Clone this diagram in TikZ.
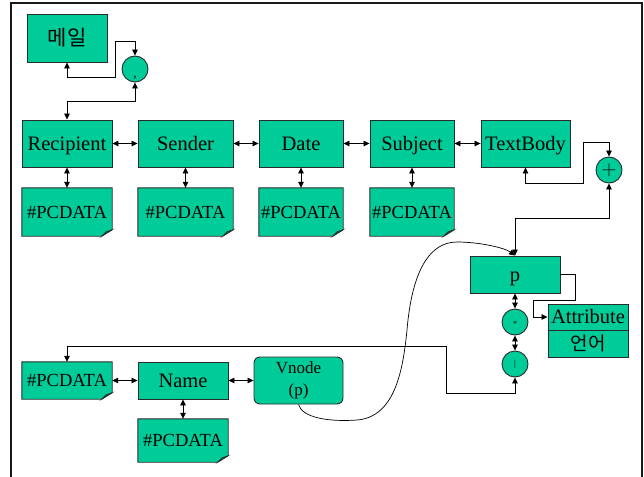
\documentclass[tikz,border=0pt]{standalone}
\usepackage{fontspec}
\setmainfont{Liberation Serif}
\newfontfamily\kofont{Noto Sans CJK KR}
\usepackage{tikz}
\usetikzlibrary{calc,arrows.meta,backgrounds}
\definecolor{boxc}{HTML}{00CC99}
\definecolor{linec}{HTML}{2B2B2B}
\tikzset{
  ar/.style={-{Triangle[length=6pt,width=5.5pt]},line width=0.8pt,black},
  dar/.style={{Triangle[length=6pt,width=5.5pt]}-{Triangle[length=6pt,width=5.5pt]},line width=0.8pt,black},
  box/.style={draw=linec,line width=0.9pt,fill=boxc,inner sep=0pt,text height=13.5pt,text depth=0pt,font=\fontsize{20.5}{22}\selectfont},
  doc/.style={inner sep=0pt,minimum width=90pt,text height=12.2pt,text depth=0pt,font=\fontsize{18.5}{20}\selectfont},
  nd/.style={circle,draw=linec,line width=0.9pt,fill=boxc,minimum size=26pt,inner sep=0pt}
}

\begin{document}
\begin{tikzpicture}[x=1pt,y=-1pt]
\useasboundingbox (0,0) rectangle (644,476);
\draw[line width=1.8pt,black!90] (11,480) -- (11,3) -- (642,3) -- (642,480);
% top part
\node[box,font=\kofont\fontsize{21}{22}\selectfont,text height={},text depth={},minimum width=80pt,minimum height=48pt] (mail) at (67,38) {메일};
\node[nd,label={[font=\fontsize{13}{13}\selectfont,yshift=-9pt]center:{,}}] (seq) at (135,69) {};
\node[box,minimum width=90pt,minimum height=47pt] (rec) at (67,143.5) {Recipient};
\node[box,minimum width=95pt,minimum height=47pt] (snd) at (185.5,143.5) {Sender};
\node[box,minimum width=84pt,minimum height=47pt] (dat) at (301,143.5) {Date};
\node[box,minimum width=84pt,minimum height=47pt] (sub) at (412,143.5) {Subject};
\node[box,minimum width=89pt,minimum height=47pt] (tb) at (525.5,143.5) {TextBody};
\node[doc,minimum height=48pt] (d1) at (67,212) {\#PCDATA};
\node[doc,minimum width=95pt,minimum height=48pt] (d2) at (185.5,212) {\#PCDATA};
\node[doc,minimum width=84pt,minimum height=48pt] (d3) at (301,212) {\#PCDATA};
\node[doc,minimum width=84pt,minimum height=48pt] (d4) at (412,212) {\#PCDATA};
\node[nd,font=\fontsize{20}{20}\selectfont] (plus) at (609,170) {$+$};
% p part
\node[box,minimum width=90pt,minimum height=37pt] (p) at (515,274.5) {p};
\node[nd,label={[font=\fontsize{8}{8}\selectfont,yshift=-1.5pt]center:{*}}] (star) at (515,322) {};
\node[nd,label={[font=\fontsize{9}{9}\selectfont]center:{|}}] (bar) at (515,364) {};
\node[box,minimum width=80pt,minimum height=26pt] (attr) at (588,317) {Attribute};
\node[box,font=\kofont\fontsize{19}{20}\selectfont,text height={},text depth={},minimum width=80pt,minimum height=27pt] (lang) at (588,343.5) {언어};
% bottom row
\node[doc,minimum height=37pt] (dl) at (67,380.5) {\#PCDATA};
\node[box,minimum width=90pt,minimum height=37pt] (name) at (183,380.5) {Name};
\node[box,rounded corners=6pt,align=center,text height={},text depth={},font=\fontsize{17}{22}\selectfont,minimum width=89pt,minimum height=47pt] (vn) at (298.5,380.5) {Vnode\\(p)};
\node[doc,minimum height=43pt] (dn) at (183,440.5) {\#PCDATA};
\begin{scope}[on background layer]
\foreach \n in {d1,d2,d3,d4,dl,dn}{
  \filldraw[draw=linec,line width=0.9pt,fill=boxc] (\n.north west) -- (\n.north east) -- ([yshift=6.5pt]\n.south east) -- ([xshift=-10.5pt]\n.south east) -- (\n.south west) -- cycle;
  \filldraw[draw=linec,line width=0.6pt,fill=boxc!65!black] ([xshift=-10.5pt]\n.south east) -- ([xshift=-6pt,yshift=4.5pt]\n.south east) -- ([yshift=6.5pt]\n.south east) -- cycle;
}
\end{scope}
% connectors
\draw[dar] (mail.south) -- ++(0,15) -| ++(48,-36) -| (seq.north);
\draw[dar] (seq.south) -- ++(0,19) -| (rec.north);
\draw[dar] (rec.east) -- (snd.west);
\draw[dar] (snd.east) -- (dat.west);
\draw[dar] (dat.east) -- (sub.west);
\draw[dar] (sub.east) -- (tb.west);
\draw[dar] (rec.south) -- (d1.north);
\draw[dar] (snd.south) -- (d2.north);
\draw[dar] (dat.south) -- (d3.north);
\draw[dar] (sub.south) -- (d4.north);
\draw[dar] (tb.south) -- ++(0,16) -| ++(57.5,-41) -| (plus.north);
\draw[dar] (plus.south) -- ++(0,35) -| (p.north);
\draw[ar] (p.east) -- ++(15,0) |- ++(-42,26) |- (attr.west);
\draw[dar] (p.south) -- (star.north);
\draw[dar] (star.south) -- (bar.north);
\draw[dar] (bar.south) -- ++(0,16) -| ++(-69,-47) -| (dl.north);
\draw[dar] (dl.east) -- (name.west);
\draw[dar] (name.east) -- (vn.west);
\draw[dar] (name.south) -- (dn.north);
\draw[ar,line width=0.7pt] (vn.south) .. controls (302,418) and (330,422) .. (357,420)
  .. controls (395,417) and (403,370) .. (407,330)
  .. controls (412,270) and (430,242) .. (457,242)
  .. controls (480,242) and (505,248) .. (p.north);
\end{tikzpicture}
\end{document}
